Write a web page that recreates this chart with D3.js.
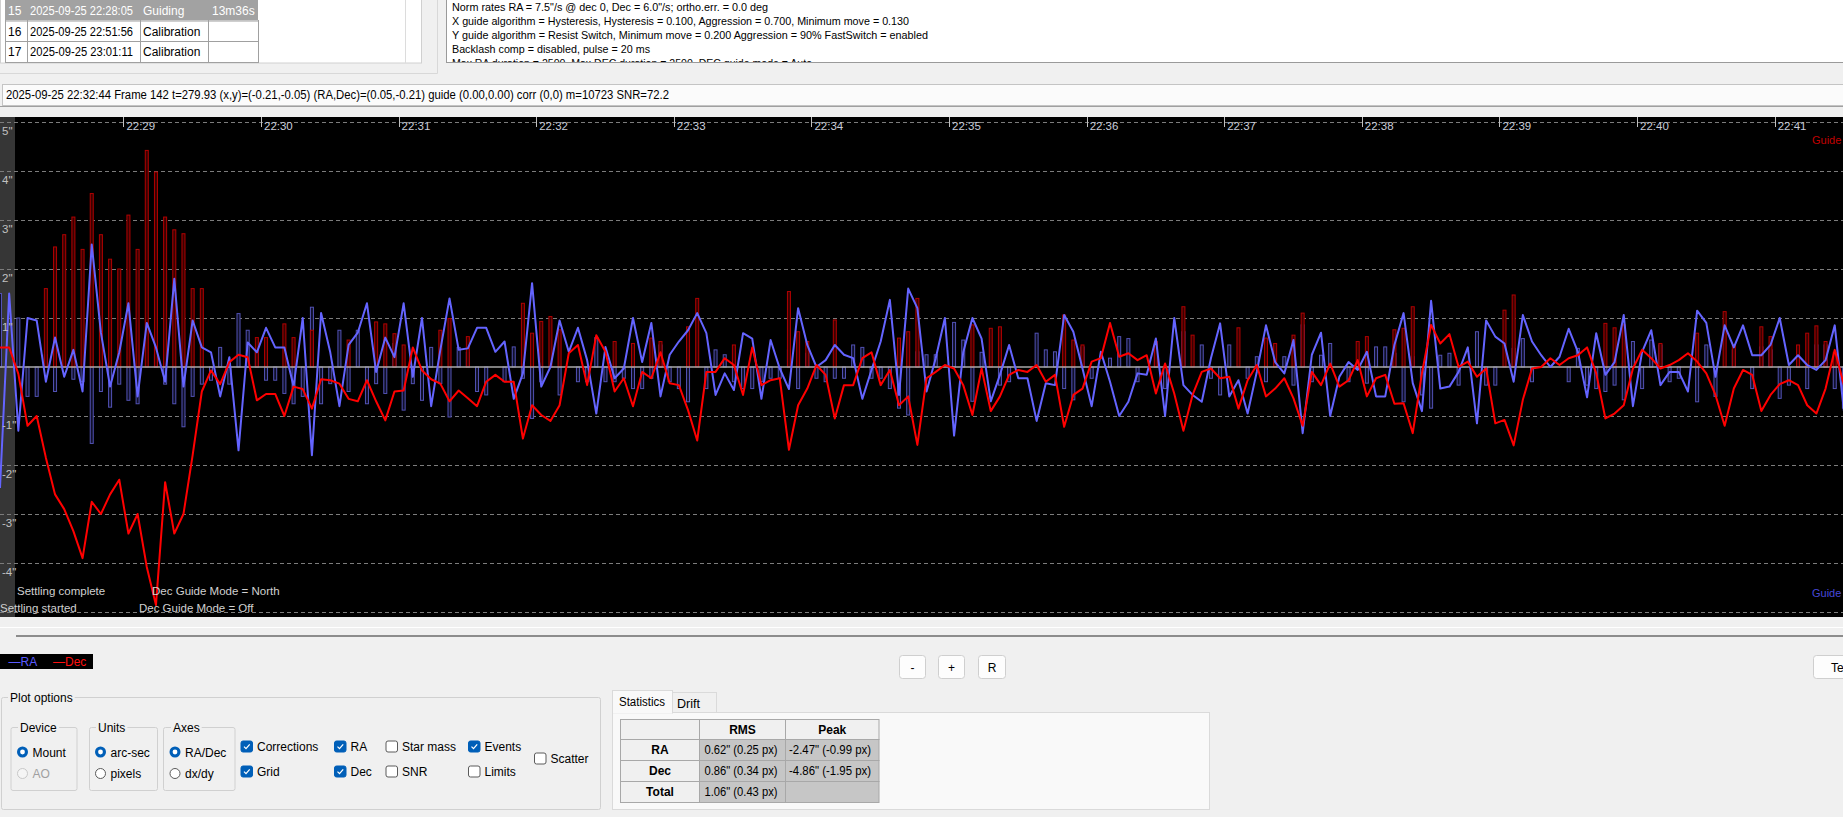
<!DOCTYPE html>
<html>
<head>
<meta charset="utf-8">
<script src="https://cdn.jsdelivr.net/npm/d3@7"></script>
<style>
  body { margin: 0; background: #f0f0f0; overflow: hidden; }
  svg text { font-family: "Liberation Sans", Arial, sans-serif; }
</style>
</head>
<body>
<svg id="chart" width="1843" height="817"></svg>
<script>
const startTime = new Date(2025, 8, 25, 22, 28, 6, 200);
const frameStep = 4; // seconds between samples

const raOffset = [
  -2.47, 1.5, -1.3, 1.0, 0.95, -0.3, 0.6, -0.2, 0.35, -0.5,
  2.5, 0.7, -0.4, 0.3, 1.3, -0.6, 0.9, 0.4, -0.3, 1.8,
  -0.4, 0.95, 0.4, 0.3, -0.6, 0.2, -1.7, 0.5, 0.3, 0.8,
  0.4, 0.4, -0.4, 1.0, -1.8, 1.1, 0.3, -0.8, 0.45, 0.7,
  1.3, -0.1, 0.6, 0.2, 1.3, -0.2, 1.0, -0.8, 0.35, 1.4, 0.35,
  0.38, 0.8, 0.8, 0.31, 0.52, -0.65, -0.13, 1.71, -0.4, 0.0,
  0.95, 0.31, 0.8, 0.14, -0.95, 0.41, -0.23, -0.03, 1.0, 0.1,
  0.9, -0.6, 0.25, 0.52, 0.75, 1.1, 0.69, -0.57, -0.13, -0.47,
  0.69, 0.58, -0.65, 0.55, -0.03, -0.45, 1.2, 0.45, 0.0, 0.14,
  0.45, 0.25, 0.18, -0.65, -0.06, 0.52, 1.37, -0.57, 1.6, 1.2,
  -0.5, 0.18, 1.0, -1.4, 0.3, 1.0, 0.58, -0.7, -0.16, 0.45,
  -0.23, -0.23, -1.1, -0.33, -0.37, 1.06, 0.72, -0.03, -0.8, 0.31,
  -0.3, -1.0, -0.71, -0.13, -0.16, 0.58, -1.0, 1.0, -0.37, -0.57,
  -0.71, 0.18, 0.89, -0.6, -0.27, -0.95, -0.1, 0.85, 0.1, -0.13,
  0.55, -1.35, 0.25, 0.7, -1.0, -0.2, 0.1, -0.06, 0.31, -0.6,
  -0.6, 0.45, 1.1, -0.33, -0.9, 1.35, -0.44, -0.4, -0.1, 0.4,
  -1.15, 0.95, 0.62, 0.48, -0.3, 1.06, 0.52, 0.24, 0.0, 0.21,
  0.78, 0.31, -0.62, 0.69, -0.16, 0.1, 1.06, -0.8, 0.31, 0.75,
  -0.37, -0.1, -0.1, -0.5, 1.15, 0.9, -0.2, 0.85, 0.4, 0.85,
  0.24, 0.24, 0.45, 1.0, 0.04, 0.24, 0.04, -0.06, 0.14, 0.85, -0.9
];

const decOffset = [
  0.4, 0.4, -0.14, -1.2, -1.0, -1.85, -2.6, -2.9, -3.35, -3.9,
  -2.75, -3.0, -2.6, -2.3, -3.4, -3.0, -4.08, -4.86, -2.35, -3.4,
  -3.0, -1.8, -0.5, -0.07, -0.35, 0.1, 0.25, 0.2, -0.68, -0.55,
  -0.55, -1.0, -0.4, -0.45, -0.85, -0.25, -0.27, -0.34, -0.65, -0.7,
  -0.27, -0.7, -1.09, -0.5, -0.48, 0.4, -0.07, -0.25, -0.34, -0.7, -0.48,
  -0.64, -0.8, -0.3, -0.16, -0.3, -0.3, -1.46, -0.78, -0.98, -1.1,
  -0.78, 0.28, 0.45, -0.37, 0.65, 0.31, -0.5, -0.23, -0.8, -0.1,
  -0.23, 0.3, -0.33, -0.37, -0.88, -1.5, -0.1, -0.1, 0.18, 0.04,
  -0.57, 0.4, -0.37, -0.27, -0.23, -1.69, -0.78, -0.44, 0.04, -0.16,
  -1.05, -0.37, -0.37, 0.18, 0.3, -0.37, -0.06, -0.78, -0.6, -1.59,
  -0.23, -0.1, 0.04, -0.03, -0.37, -0.98, -0.03, -0.9, -0.6, -0.16,
  -0.06, -0.1, 0.04, -0.3, -0.16, -1.22, -0.57, -0.44, 0.11, 0.18,
  0.9, 0.21, 0.28, 0.14, 0.24, -0.54, 0.07, -0.54, -1.3, -0.57,
  -0.1, -0.03, -0.23, -0.2, -0.85, -0.27, 0.04, -0.6, -0.44, -0.23,
  -0.64, -1.2, -0.1, -0.37, 0.07, -0.4, -0.27, 0.14, -0.6, -0.23,
  -0.16, -0.75, -0.74, -1.35, -0.13, 0.86, 0.48, 0.67, 0.0, 0.11,
  -0.2, -0.03, -1.15, -1.08, -1.6, -0.67, -0.03, 0.0, 0.18, 0.04,
  0.18, 0.24, 0.4, -0.13, -1.05, -0.95, -0.78, -0.03, 0.35, 0.18,
  -0.03, 0.04, 0.14, 0.28, 0.11, -0.13, -0.57, -1.2, -0.44, -0.06,
  -0.16, -0.9, -0.57, -0.35, -0.27, -0.37, -0.78, -0.95, -0.44, 0.35, -0.37
];

const raCorrection = [
  1.5, 0, 1.0, -0.6, -0.6, 0.25, -0.5, 0, -0.25, -0.3,
  -1.56, -0.5, -0.82, -0.35, -0.68, -0.75, 0, 0.25, -0.35, -0.75,
  -1.22, -0.6, -0.35, -0.27, 0.4, -0.35, 1.09, 0.75, 0.35, -0.27,
  -0.27, -0.54, -0.75, -0.6, 1.22, -0.75, -0.34, 0.75, -0.5, 0.75,
  -0.75, -0.34, -0.54, 0.48, -0.88, -0.34, -0.68, 0.4, -0.34, -1.02, 0.4,
  0.3, -0.5, -0.57, 0, -0.3, 0.41, -0.23, -1.05, -0.3, 0,
  -0.57, 0, -0.3, -0.3, 0.6, -0.3, -0.3, -0.23, -0.44, -0.44,
  -0.23, 0.45, -0.3, -0.44, -0.71, 0, -0.44, 0.35, 0.25, -0.3,
  -0.44, -0.44, -0.3, -0.23, -0.23, 0.35, -0.44, 0.28, -0.23, -0.3,
  -0.23, -0.23, 0.45, 0.4, -0.23, -0.23, -0.44, -0.84, -0.98, 0.31,
  0.25, 0.25, 0, 0.91, 0.55, -0.7, 0.3, 0, -0.37, -0.3,
  0, 0, 0.69, 0.35, 0.31, -0.44, -0.67, 0.41, -0.23, 0,
  0.18, 0.62, 0.58, -0.3, 0, 0.41, -0.44, 0, 0.72, 0,
  0.45, -0.23, -0.57, 0.45, 0, -0.23, 0.21, -0.3, 0, 0.21,
  -0.37, 0.86, -0.3, 0.24, 0.48, 0, -0.3, 0, -0.33, 0.41,
  0.41, 0.28, -0.71, 0.21, -0.57, -0.84, 0.24, 0.28, -0.37, 0,
  0.72, -0.37, -0.37, 0, 0.38, 0.58, -0.3, 0, 0, 0,
  -0.3, 0.38, -0.37, -0.44, -0.5, -0.37, -0.67, 0.52, -0.44, 0.55,
  0.45, -0.3, -0.23, 0, -0.71, 0.45, -0.6, 0, 0.35, 0,
  -0.44, 0.41, 0.35, -0.64, -0.37, 0.24, -0.44, 0.45, 0.45, -0.44, -0.84
];

const decCorrection = [
  0, 0, 0, 0, 0, 1.6, 2.45, 2.7, 3.06, 2.4,
  3.54, 2.7, 2.2, 2.0, 3.1, 2.4, 4.42, 3.98, 3.06, 2.8,
  2.72, 1.6, 1.6, 0, 0, 0, 0, 0, 0.6, 0.6,
  0, 0.88, 0.6, 0, 0.75, 0, 0, 0, 0.55, 0,
  0, 0.92, 0.88, 0.68, 0.45, 0, 0, 0, 0.75, 0.99, 0,
  0.62, 0, 0, 0, 0, 0, 1.3, 0.69, 0.93, 1.03,
  0.76, 0, 0, 0, 0, 0, 0.52, 0, 0.48, 0,
  0.59, 0.52, 0, 0, 0.82, 1.4, 0, 0, 0, 0.45,
  0, 0, 0, 0, 0, 1.54, 0.72, 0.52, 0, 0,
  0.96, 0, 0, 0, 0, 0, 0, 0.59, 0.72, 1.4,
  0, 0, 0, 0, 0, 0.86, 0, 0.79, 0.82, 0,
  0, 0, 0, 0, 0, 1.06, 0.55, 0.45, 0, 0,
  0, 0, 0, 0, 0, 0.52, 0, 0, 1.23, 0.65,
  0, 0, 0, 0, 0.8, 0, 0, 0.59, 0.48, 0,
  0.65, 1.1, 0, 0, 0, 0, 0, 0.52, 0.62, 0,
  0, 0.76, 0.79, 1.23, 0, 0, 0, 0, 0, 0,
  0, 0, 0, 1.16, 1.47, 0, 0, 0, 0, 0,
  0, 0, 0, 0, 0.89, 0.8, 0.86, 0, 0, 0,
  0.48, 0, 0, 0, 0.69, 0, 0, 1.13, 0.45, 0,
  0, 0.82, 0.62, 0, 0, 0.45, 0.69, 0.84, 0.52, 0.3, 0
];

const yGridValues = [5, 4, 3, 2, 1, -1, -2, -3, -4, -5];
const yLabelValues = [5, 4, 3, 2, 1, -1, -2, -3, -4];

const eventNames = ["Settling started", "Settling complete", "Dec Guide Mode = Off", "Dec Guide Mode = North"];
const eventSeconds = [0, 7.4, 60.6, 66.3];
const eventRow = [1, 0, 1, 0];

const sessionRows = [
  ["15", "2025-09-25 22:28:05", "Guiding", "13m36s"],
  ["16", "2025-09-25 22:51:56", "Calibration", ""],
  ["17", "2025-09-25 23:01:11", "Calibration", ""]
];

const infoLines = [
  "Norm rates RA = 7.5\"/s @ dec 0, Dec = 6.0\"/s; ortho.err. = 0.0 deg",
  "X guide algorithm = Hysteresis, Hysteresis = 0.100, Aggression = 0.700, Minimum move = 0.130",
  "Y guide algorithm = Resist Switch, Minimum move = 0.200 Aggression = 90% FastSwitch = enabled",
  "Backlash comp = disabled, pulse = 20 ms",
  "Max RA duration = 2500, Max DEC duration = 2500, DEC guide mode = Auto"
];
const infoWidths = [316, 457, 476, 198, 360];

const statusText = "2025-09-25 22:32:44 Frame 142 t=279.93 (x,y)=(-0.21,-0.05) (RA,Dec)=(0.05,-0.21) guide (0.00,0.00) corr (0,0) m=10723 SNR=72.2";

const statRowNames = ["RA", "Dec", "Total"];
const statColNames = ["RMS", "Peak"];
const statValues = [
  ["0.62\" (0.25 px)", "-2.47\" (-0.99 px)"],
  ["0.86\" (0.34 px)", "-4.86\" (-1.95 px)"],
  ["1.06\" (0.43 px)", ""]
];

// ---- layout ----
const W = 1843;
const plotTop = 117, plotBottom = 617;

const svg = d3.select("#chart");
svg.append("rect").attr("width", W).attr("height", 817).attr("fill", "#f0f0f0");

// ---- top: session list ----
const sessionG = svg.append("g");
sessionG.append("rect").attr("x", 0.5).attr("y", -1).attr("width", 421).attr("height", 64)
  .attr("fill", "#fff").attr("stroke", "#d0d0d0");
sessionG.append("line").attr("x1", 405.5).attr("x2", 405.5).attr("y1", 0).attr("y2", 63).attr("stroke", "#dcdcdc");
sessionG.append("path").attr("d", "M0,73.5H437.5V0").attr("fill", "none").attr("stroke", "#d8d8d8");

const colX = [5, 27, 140, 208, 258];
const rowY = [0, 20.5, 41, 62];
const textX = [8, 30, 143, 212];
sessionRows.forEach((row, r) => {
  const hi = r === 0;
  sessionG.append("rect").attr("x", colX[0]).attr("y", rowY[r]).attr("width", colX[4] - colX[0])
    .attr("height", rowY[r + 1] - rowY[r]).attr("fill", hi ? "#a2a2a2" : "#fff");
  row.forEach((t, c) => {
    const txt = sessionG.append("text").attr("x", textX[c]).attr("y", rowY[r] + 15)
      .attr("font-size", 12).attr("fill", hi ? "#fff" : "#000").text(t);
    if (c === 1) txt.attr("textLength", 103).attr("lengthAdjust", "spacingAndGlyphs");
  });
});
[1, 2].forEach(r => sessionG.append("line").attr("x1", colX[0]).attr("x2", colX[4])
  .attr("y1", rowY[r] + 0.5).attr("y2", rowY[r] + 0.5).attr("stroke", "#a0a0a0"));
sessionG.append("line").attr("x1", colX[0]).attr("x2", colX[4]).attr("y1", 62.5).attr("y2", 62.5).attr("stroke", "#a0a0a0");
colX.forEach(cx => sessionG.append("line").attr("x1", cx + 0.5).attr("x2", cx + 0.5)
  .attr("y1", 20).attr("y2", 63).attr("stroke", "#a0a0a0"));

// ---- top: info text ----
svg.append("clipPath").attr("id", "infoClip").append("rect")
  .attr("x", 447).attr("y", 0).attr("width", W - 447).attr("height", 62);
svg.append("rect").attr("x", 446.5).attr("y", -1).attr("width", W).attr("height", 63.5)
  .attr("fill", "#fff").attr("stroke", "#9a9a9a");
const info = svg.append("g").attr("clip-path", "url(#infoClip)");
infoLines.forEach((t, i) => {
  info.append("text").attr("x", 452).attr("y", 11 + i * 14).attr("font-size", 11.5)
    .attr("textLength", infoWidths[i]).attr("lengthAdjust", "spacingAndGlyphs")
    .attr("fill", "#000").text(t);
});

// ---- status bar ----
svg.append("rect").attr("x", 2.5).attr("y", 84.5).attr("width", W).attr("height", 21)
  .attr("fill", "#fbfbfb").attr("stroke", "#c4c4c4");
svg.append("line").attr("x1", 0).attr("x2", W).attr("y1", 106.5).attr("y2", 106.5)
  .attr("stroke", "#a0a0a0");
svg.append("text").attr("x", 6).attr("y", 99).attr("font-size", 12.5)
  .attr("textLength", 663).attr("lengthAdjust", "spacingAndGlyphs").text(statusText);

// ---- plot ----
const x = d3.scaleTime()
  .domain([startTime, new Date(+startTime + 803600)])
  .range([0, W]);
const y = d3.scaleLinear().domain([-5, 5]).range([612, 122]);
const times = raOffset.map((_, i) => new Date(+startTime + i * frameStep * 1000));

svg.append("clipPath").attr("id", "plotClip").append("rect")
  .attr("x", 0).attr("y", plotTop).attr("width", W).attr("height", plotBottom - plotTop);

const plot = svg.append("g").attr("clip-path", "url(#plotClip)");
plot.append("rect").attr("x", 0).attr("y", plotTop).attr("width", W)
  .attr("height", plotBottom - plotTop).attr("fill", "#000");
plot.append("rect").attr("x", 0).attr("y", plotTop).attr("width", 15)
  .attr("height", plotBottom - plotTop).attr("fill", "#363636");

// grid
plot.selectAll(".grid").data(yGridValues).enter().append("line")
  .attr("x1", 0).attr("x2", W)
  .attr("y1", d => Math.round(y(d)) + 0.5).attr("y2", d => Math.round(y(d)) + 0.5)
  .attr("stroke", "#7c7c7c").attr("stroke-dasharray", "4,3");

// corrections
const bars = (vals, color, fill) => {
  plot.append("g").selectAll("rect")
    .data(vals.map((v, i) => ({ t: times[i], v })).filter(d => d.v !== 0))
    .enter().append("rect")
    .attr("x", d => x(d.t) - 1.5)
    .attr("y", d => Math.min(y(d.v), y(0)))
    .attr("width", 3)
    .attr("height", d => Math.abs(y(d.v) - y(0)))
    .attr("fill", fill).attr("stroke", color).attr("stroke-width", 1);
};
bars(raCorrection, "#5252b4", "#10102a");
bars(decCorrection, "#b00000", "#3a0000");

// zero line
plot.append("line").attr("x1", 0).attr("x2", W)
  .attr("y1", y(0)).attr("y2", y(0)).attr("stroke", "#a8a8a8").attr("stroke-width", 1.5);

// time ticks
const ticks = x.ticks(d3.timeMinute.every(1));
const fmt = d3.timeFormat("%H:%M");
plot.selectAll(".tick").data(ticks).enter().append("line")
  .attr("x1", d => Math.round(x(d)) + 0.5).attr("x2", d => Math.round(x(d)) + 0.5)
  .attr("y1", plotTop).attr("y2", plotTop + 10).attr("stroke", "#c0c0c0");
plot.selectAll(".tlabel").data(ticks).enter().append("text")
  .attr("x", d => x(d) + 3).attr("y", 130).attr("font-size", 11.5)
  .attr("fill", "#c8ccd8").text(fmt);

// lines
const lineGen = vals => d3.line()
  .x((d, i) => x(times[i]))
  .y(d => y(d))(vals);
plot.append("path").attr("d", lineGen(raOffset)).attr("fill", "none")
  .attr("stroke", "#6464ff").attr("stroke-width", 2).attr("stroke-linejoin", "round");
plot.append("path").attr("d", lineGen(decOffset)).attr("fill", "none")
  .attr("stroke", "#ff0000").attr("stroke-width", 2).attr("stroke-linejoin", "round");

// y labels
plot.selectAll(".ylabel").data(yLabelValues).enter().append("text")
  .attr("x", 2).attr("y", d => y(d) + 12.5).attr("font-size", 11.5)
  .attr("fill", "#c0c0c0").text(d => d + "\"");

// events
eventNames.forEach((name, i) => {
  plot.append("text")
    .attr("x", x(new Date(+startTime + eventSeconds[i] * 1000)))
    .attr("y", eventRow[i] ? 612 : 595)
    .attr("font-size", 11.5).attr("fill", "#d0d0d0").text(name);
});

plot.append("text").attr("x", 1812).attr("y", 144).attr("font-size", 11)
  .attr("fill", "#c00000").text("Guide");
plot.append("text").attr("x", 1812).attr("y", 597).attr("font-size", 11)
  .attr("fill", "#4848d8").text("Guide");

// ---- below plot ----
svg.append("line").attr("x1", 0).attr("x2", W).attr("y1", 627.5).attr("y2", 627.5).attr("stroke", "#fff");
svg.append("rect").attr("x", 16).attr("y", 635).attr("width", W).attr("height", 2).attr("fill", "#8c8c8c");

// legend
svg.append("rect").attr("x", 0).attr("y", 654).attr("width", 93).attr("height", 15).attr("fill", "#000");
svg.append("text").attr("x", 8.5).attr("y", 666).attr("font-size", 12).attr("fill", "#5a5aff").text("\u2014RA");
svg.append("text").attr("x", 53).attr("y", 666).attr("font-size", 12).attr("fill", "#ff1010").text("\u2014Dec");

// buttons
const buttons = [[899, "-", 26], [938, "+", 26], [978, "R", 27], [1813, "Te", 40]];
buttons.forEach(([bx, label, bw]) => {
  svg.append("rect").attr("x", bx + 0.5).attr("y", 655.5).attr("width", bw)
    .attr("height", 23).attr("rx", 3).attr("fill", "#fdfdfd").attr("stroke", "#cfcfcf");
  svg.append("text").attr("x", label === "Te" ? bx + 18 : bx + bw / 2 + 0.5).attr("y", 671.5)
    .attr("text-anchor", label === "Te" ? "start" : "middle")
    .attr("font-size", 12).attr("fill", "#000").text(label);
});

// ---- plot options ----
const opt = svg.append("g").attr("font-size", 12);
const groupBox = (gx, gy, gw, gh, title, tx) => {
  opt.append("rect").attr("x", gx + 0.5).attr("y", gy + 0.5).attr("width", gw).attr("height", gh)
    .attr("rx", 2).attr("fill", "none").attr("stroke", "#d0d0d0");
  const t = opt.append("text").attr("x", tx).attr("y", gy + 5).attr("fill", "#000").text(title);
  const bb = t.node().getBBox();
  opt.insert("rect", "text:last-child").attr("x", bb.x - 2).attr("y", gy - 1)
    .attr("width", bb.width + 4).attr("height", 4).attr("fill", "#f0f0f0");
};
groupBox(1, 697, 599, 112, "Plot options", 10);
groupBox(10.5, 727, 66, 63, "Device", 20);
groupBox(89, 727, 68, 63, "Units", 98);
groupBox(163, 727, 71.5, 63, "Axes", 173);

const radio = (cx, cy, label, on, disabled) => {
  if (on) {
    opt.append("circle").attr("cx", cx).attr("cy", cy).attr("r", 5.5).attr("fill", "#005fb8");
    opt.append("circle").attr("cx", cx).attr("cy", cy).attr("r", 2.4).attr("fill", "#fff");
  } else {
    opt.append("circle").attr("cx", cx).attr("cy", cy).attr("r", 5).attr("fill", disabled ? "#f5f5f5" : "#fff")
      .attr("stroke", disabled ? "#c8c8c8" : "#5a5a5a");
  }
  opt.append("text").attr("x", cx + 10).attr("y", cy + 4.5).attr("fill", disabled ? "#a0a0a0" : "#000").text(label);
};
radio(22.5, 752, "Mount", true, false);
radio(22.5, 773.5, "AO", false, true);
radio(100.5, 752, "arc-sec", true, false);
radio(100.5, 773.5, "pixels", false, false);
radio(175, 752, "RA/Dec", true, false);
radio(175, 773.5, "dx/dy", false, false);

const checkbox = (bx, by, label, on) => {
  opt.append("rect").attr("x", bx + 0.5).attr("y", by + 0.5).attr("width", 11.5).attr("height", 11).attr("rx", 2)
    .attr("fill", on ? "#005fb8" : "#fff").attr("stroke", on ? "#005fb8" : "#5a5a5a");
  if (on) opt.append("path").attr("d", `M${bx + 3.5},${by + 6.2}L${bx + 5.5},${by + 8.2}L${bx + 9.2},${by + 3.8}`)
    .attr("fill", "none").attr("stroke", "#fff").attr("stroke-width", 1.2);
  opt.append("text").attr("x", bx + 16.5).attr("y", by + 10).attr("fill", "#000").text(label);
};
checkbox(240.5, 740.5, "Corrections", true);
checkbox(240.5, 765.5, "Grid", true);
checkbox(334, 740.5, "RA", true);
checkbox(334, 765.5, "Dec", true);
checkbox(385.5, 740.5, "Star mass", false);
checkbox(385.5, 765.5, "SNR", false);
checkbox(468, 740.5, "Events", true);
checkbox(468, 765.5, "Limits", false);
checkbox(534, 752.5, "Scatter", false);

// ---- statistics ----
const st = svg.append("g");
st.append("rect").attr("x", 612.5).attr("y", 712.5).attr("width", 597).attr("height", 97)
  .attr("fill", "#f9f9f9").attr("stroke", "#dadada");
st.append("rect").attr("x", 672.5).attr("y", 692.5).attr("width", 44).attr("height", 20)
  .attr("fill", "#f0f0f0").attr("stroke", "#dadada");
st.append("rect").attr("x", 612.5).attr("y", 690.5).attr("width", 60).attr("height", 22.5)
  .attr("fill", "#f9f9f9").attr("stroke", "#dadada");
st.append("rect").attr("x", 613).attr("y", 712).attr("width", 59).attr("height", 1.5).attr("fill", "#f9f9f9");
st.append("text").attr("x", 619).attr("y", 705.5).attr("font-size", 12)
  .attr("textLength", 46).attr("lengthAdjust", "spacingAndGlyphs").text("Statistics");
st.append("text").attr("x", 677).attr("y", 707.5).attr("font-size", 12)
  .attr("textLength", 23).attr("lengthAdjust", "spacingAndGlyphs").text("Drift");

const tCols = [620.5, 699.5, 785.5, 879];
const tRows = [719, 739, 760, 781, 802];
for (let r = 0; r < 4; r++) {
  for (let c = 0; c < 3; c++) {
    const head = r === 0 || c === 0;
    st.append("rect").attr("x", tCols[c]).attr("y", tRows[r] + 0.5)
      .attr("width", tCols[c + 1] - tCols[c]).attr("height", tRows[r + 1] - tRows[r])
      .attr("fill", head ? "#f0f0f0" : "#c6c6c6").attr("stroke", "#a8a8a8");
  }
}
statColNames.forEach((name, c) => {
  st.append("text").attr("x", (tCols[c + 1] + tCols[c + 2]) / 2).attr("y", 734)
    .attr("text-anchor", "middle").attr("font-size", 12).attr("font-weight", "bold").text(name);
});
statRowNames.forEach((name, r) => {
  const by = tRows[r + 1] + 15;
  st.append("text").attr("x", (tCols[0] + tCols[1]) / 2).attr("y", by)
    .attr("text-anchor", "middle").attr("font-size", 12).attr("font-weight", "bold").text(name);
  statValues[r].forEach((v, c) => {
    if (!v) return;
    st.append("text").attr("x", c === 0 ? 704.5 : 789).attr("y", by).attr("font-size", 12)
      .attr("textLength", c === 0 ? 73 : 82).attr("lengthAdjust", "spacingAndGlyphs").text(v);
  });
});
</script>
</body>
</html>
